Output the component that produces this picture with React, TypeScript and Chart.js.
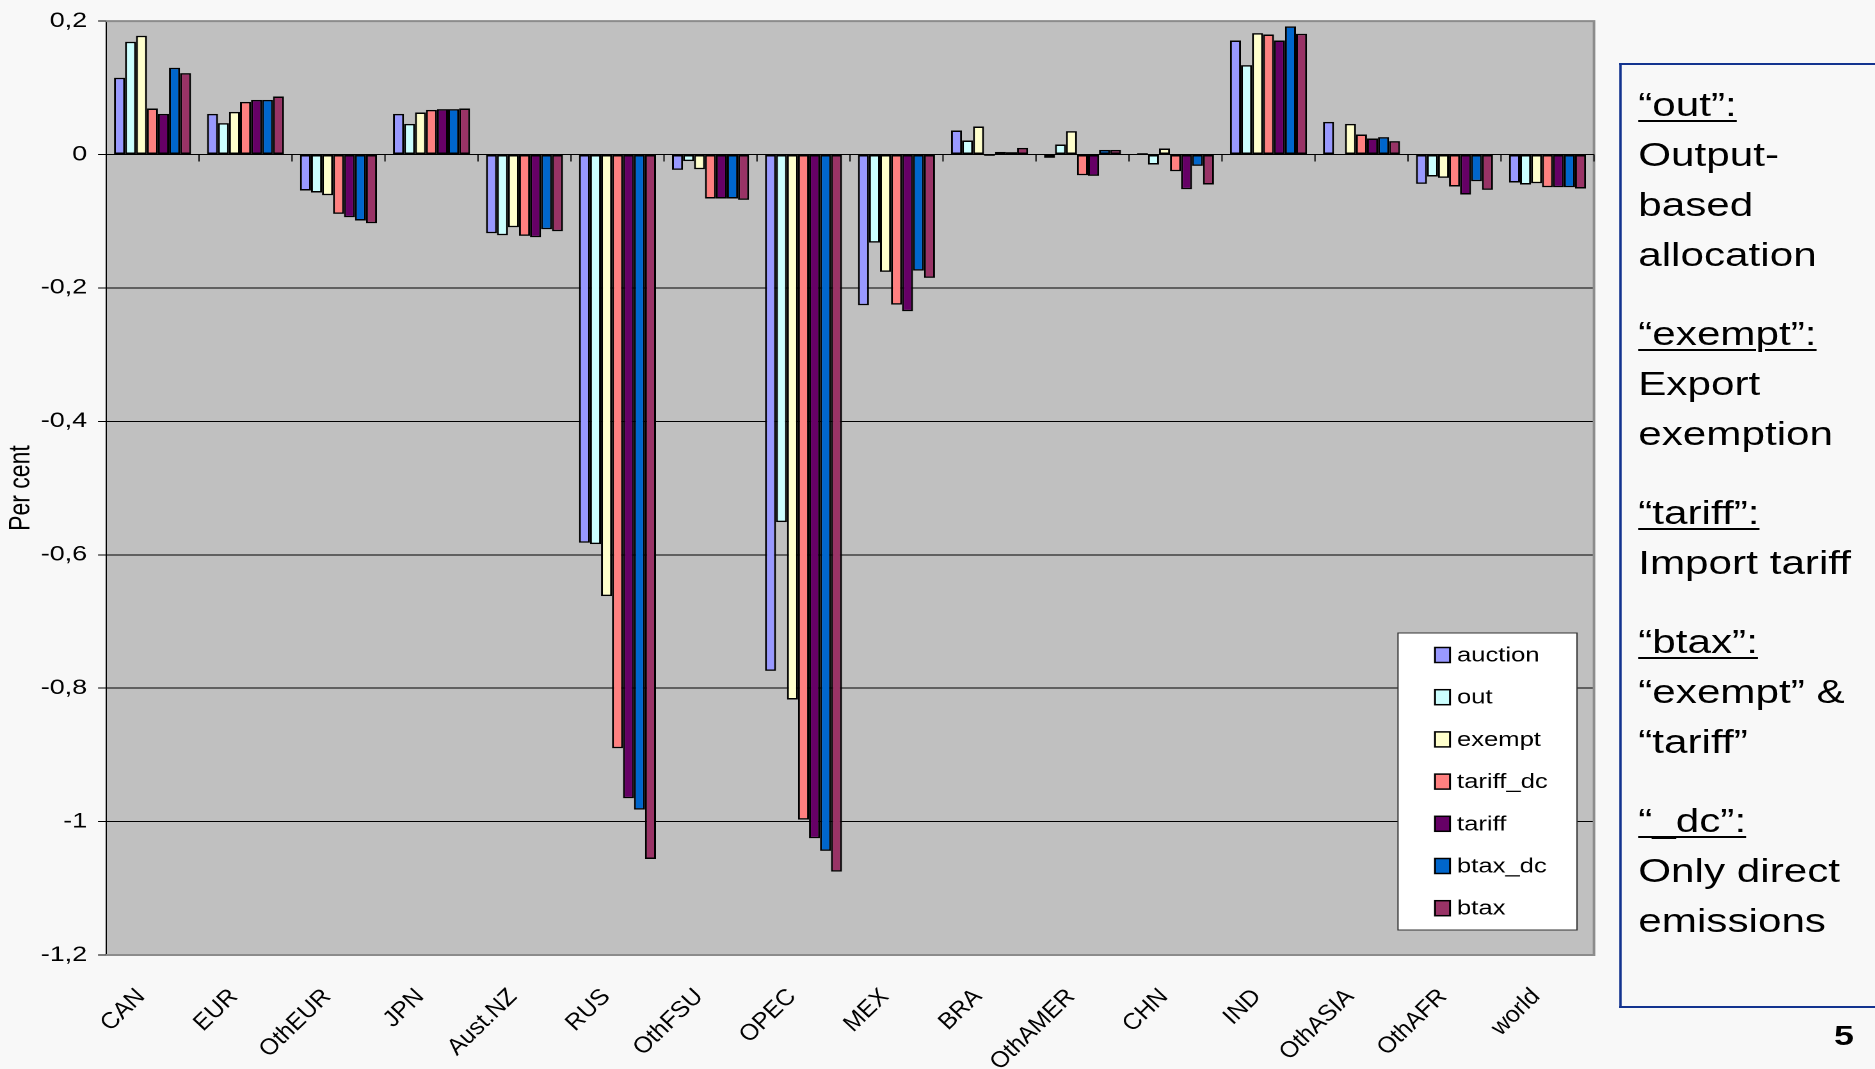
import React, { useEffect, useRef } from "react";
import { Chart, registerables } from "chart.js";

Chart.register(...registerables);

// ---------- data ----------
const categories = ["CAN", "EUR", "OthEUR", "JPN", "Aust.NZ", "RUS", "OthFSU", "OPEC", "MEX", "BRA", "OthAMER", "CHN", "IND", "OthASIA", "OthAFR", "world"];
const seriesNames = ["auction", "out", "exempt", "tariff_dc", "tariff", "btax_dc", "btax"];
const seriesColors = ["#9999FF", "#CCFFFF", "#FFFFCC", "#FF8080", "#660066", "#0066CC", "#993366"];

const auction = [0.115, 0.061, -0.054, 0.061, -0.118, -0.582, -0.023, -0.774, -0.226, 0.036, -0.005, 0.002, 0.171, 0.049, -0.044, -0.042];
const out = [0.169, 0.047, -0.057, 0.046, -0.121, -0.584, -0.010, -0.551, -0.132, 0.021, 0.015, -0.015, 0.134, null, -0.033, -0.045];
const exempt = [0.178, 0.064, -0.061, 0.063, -0.109, -0.662, -0.022, -0.817, -0.176, 0.042, 0.035, 0.009, 0.182, 0.046, -0.035, -0.043];
const tariff_dc = [0.069, 0.079, -0.089, 0.067, -0.122, -0.890, -0.066, -0.997, -0.225, -0.002, -0.031, -0.025, 0.180, 0.030, -0.048, -0.049];
const tariff = [0.061, 0.082, -0.094, 0.068, -0.124, -0.965, -0.066, -1.025, -0.235, 0.004, -0.032, -0.052, 0.171, 0.024, -0.060, -0.049];
const btax_dc = [0.130, 0.082, -0.099, 0.068, -0.112, -0.982, -0.066, -1.044, -0.174, 0.0035, 0.007, -0.017, 0.192, 0.026, -0.040, -0.049];
const btax = [0.122, 0.087, -0.103, 0.069, -0.115, -1.056, -0.068, -1.075, -0.185, 0.010, 0.007, -0.045, 0.181, 0.020, -0.053, -0.051];
const seriesValues = [auction, out, exempt, tariff_dc, tariff, btax_dc, btax];

const yMin = -1.2;
const yMax = 0.2;
const yStep = 0.2;
const yTitle = "Per cent";

const notes = [
  { head: "\u201Cout\u201D:", body: ["Output-", "based", "allocation"] },
  { head: "\u201Cexempt\u201D:", body: ["Export", "exemption"] },
  { head: "\u201Ctariff\u201D:", body: ["Import tariff"] },
  { head: "\u201Cbtax\u201D:", body: ["\u201Cexempt\u201D &", "\u201Ctariff\u201D"] },
  { head: "\u201C_dc\u201D:", body: ["Only direct", "emissions"] },
];
const pageNumber = "5";

// ---------- layout (slide is stretched horizontally) ----------
const S = 1.28;
const W = 1465;
const H = 1069;
const FONT = "'Liberation Sans', Arial, Helvetica, sans-serif";
const AREA = { left: 106 / S, right: 1594 / S, top: 19.3, bottom: 955 };
const LEG = {
  left: 1398 / S, right: 1577 / S, top: 633, bottom: 930,
  sqX: 1435 / S, sqW: 15 / S, sqH: 15, textX: 1457 / S, row0: 655, rowStep: 42.2,
};

const plotPlugin = {
  id: "plotDecor",
  beforeDraw(chart: any) {
    const { ctx, chartArea } = chart;
    ctx.save();
    ctx.fillStyle = "#C0C0C0";
    ctx.fillRect(chartArea.left, chartArea.top, chartArea.right - chartArea.left, chartArea.bottom - chartArea.top);
    ctx.restore();
  },
  beforeDatasetsDraw(chart: any) {
    const { ctx, chartArea } = chart;
    ctx.save();
    ctx.strokeStyle = "#8C8C8C";
    ctx.lineWidth = 2;
    ctx.beginPath();
    ctx.moveTo(chartArea.left, chartArea.top);
    ctx.lineTo(chartArea.right, chartArea.top);
    ctx.lineTo(chartArea.right, chartArea.bottom);
    ctx.lineTo(chartArea.left, chartArea.bottom);
    ctx.stroke();
    ctx.restore();
  },
  afterDatasetsDraw(chart: any) {
    const { ctx } = chart;
    const xs = chart.scales.x;
    const ys = chart.scales.y;
    const y0 = ys.getPixelForValue(0);
    const n = chart.data.labels.length;
    ctx.save();
    ctx.strokeStyle = "#000";
    ctx.lineWidth = 1;
    ctx.beginPath();
    ctx.moveTo(xs.left, y0);
    ctx.lineTo(xs.right, y0);
    for (let k = 1; k <= n; k++) {
      const px = xs.left + (xs.width / n) * k;
      ctx.moveTo(px, y0);
      ctx.lineTo(px, y0 + 7);
    }
    ctx.stroke();
    ctx.restore();
  },
  afterDraw(chart: any) {
    const { ctx } = chart;
    ctx.save();
    ctx.fillStyle = "#FFFFFF";
    ctx.fillRect(LEG.left, LEG.top, LEG.right - LEG.left, LEG.bottom - LEG.top);
    ctx.strokeStyle = "#333";
    ctx.lineWidth = 1;
    ctx.strokeRect(LEG.left, LEG.top, LEG.right - LEG.left, LEG.bottom - LEG.top);
    chart.data.datasets.forEach((ds: any, i: number) => {
      const cy = LEG.row0 + i * LEG.rowStep;
      ctx.fillStyle = ds.backgroundColor;
      ctx.fillRect(LEG.sqX, cy - LEG.sqH / 2, LEG.sqW, LEG.sqH);
      ctx.strokeStyle = "#000";
      ctx.lineWidth = 1.5;
      ctx.strokeRect(LEG.sqX, cy - LEG.sqH / 2, LEG.sqW, LEG.sqH);
      ctx.fillStyle = "#000";
      ctx.font = `20px ${FONT}`;
      ctx.textBaseline = "middle";
      ctx.textAlign = "left";
      ctx.fillText(ds.label, LEG.textX, cy + 1);
    });
    ctx.restore();
  },
};

function fmt(v: number) {
  const r = Math.round(v * 10) / 10;
  if (r === 0) return "0";
  return r.toFixed(1).replace(/\.0$/, "").replace(".", ",");
}

export default function App() {
  const ref = useRef<HTMLCanvasElement>(null);

  useEffect(() => {
    document.body.style.margin = "0";
    const chart = new Chart(ref.current as HTMLCanvasElement, {
      type: "bar",
      data: {
        labels: categories,
        datasets: seriesNames.map((name, i) => ({
          label: name,
          data: seriesValues[i] as any,
          backgroundColor: seriesColors[i],
          borderColor: "#000",
          borderWidth: 1.5,
          borderSkipped: false,
          categoryPercentage: 0.828,
          barPercentage: 1.0,
        })),
      },
      options: {
        responsive: false,
        animation: false,
        devicePixelRatio: 2,
        layout: { padding: { left: 0, top: AREA.top, right: W - AREA.right, bottom: 0 } },
        plugins: { legend: { display: false }, tooltip: { enabled: false }, title: { display: false } },
        scales: {
          x: {
            type: "category",
            grid: { display: false, drawTicks: false },
            border: { display: false },
            ticks: {
              autoSkip: false,
              minRotation: 51,
              maxRotation: 51,
              padding: 30,
              labelOffset: -9,
              color: "#000",
              font: { family: FONT, size: 21, style: "italic" },
            },
            afterFit: (scale: any) => {
              scale.height = H - AREA.bottom;
            },
          },
          y: {
            min: yMin,
            max: yMax,
            ticks: {
              stepSize: yStep,
              autoSkip: false,
              padding: 8.5,
              color: "#000",
              font: { family: FONT, size: 21 },
              callback: (v: any) => fmt(Number(v)),
            },
            grid: {
              color: (c: any) => (c.tick && (c.tick.value > yMax - 0.05 || c.tick.value < yMin + 0.05) ? "rgba(0,0,0,0)" : "#000"),
              lineWidth: 1,
              tickColor: "#000",
              tickLength: 6.25,
              drawTicks: true,
            },
            border: { display: true, color: "#000", width: 1 },
            title: {
              display: true,
              text: yTitle,
              color: "#000",
              font: { family: FONT, size: 23 },
              padding: { top: 3, bottom: 0 },
            },
            afterFit: (scale: any) => {
              scale.width = AREA.left;
            },
          },
        },
      },
      plugins: [plotPlugin],
    });
    return () => chart.destroy();
  }, []);

  return (
    <div style={{ position: "absolute", left: 0, top: 0, width: 1875, height: H, background: "#F8F8F8", overflow: "hidden" }}>
      <div style={{ position: "absolute", left: 0, top: 0, width: W, height: H, transform: `scaleX(${S})`, transformOrigin: "0 0" }}>
        <canvas ref={ref} width={W} height={H} style={{ position: "absolute", left: 0, top: 0 }} />
        <div
          style={{
            position: "absolute",
            left: 1619 / S,
            top: 63,
            width: 260,
            height: 1008 - 63,
            boxSizing: "border-box",
            border: "2px solid #13338F",
            borderRight: "none",
            paddingTop: 15,
            paddingLeft: 13,
            fontFamily: FONT,
            fontSize: 33,
            lineHeight: "50px",
            color: "#000",
          }}
        >
          {notes.map((n, i) => (
            <div key={i} style={{ marginBottom: 29 }}>
              <div style={{ textDecoration: "underline", textUnderlineOffset: 4, textDecorationThickness: 2, whiteSpace: "nowrap" }}>{n.head}</div>
              {n.body.map((b, j) => (
                <div key={j} style={{ whiteSpace: "nowrap" }}>{b}</div>
              ))}
            </div>
          ))}
        </div>
        <div
          style={{
            position: "absolute",
            left: 1844 / S - 10,
            top: 1022,
            width: 20,
            textAlign: "center",
            fontFamily: FONT,
            fontWeight: "bold",
            fontSize: 28,
            lineHeight: "28px",
            color: "#000",
          }}
        >
          {pageNumber}
        </div>
      </div>
    </div>
  );
}
